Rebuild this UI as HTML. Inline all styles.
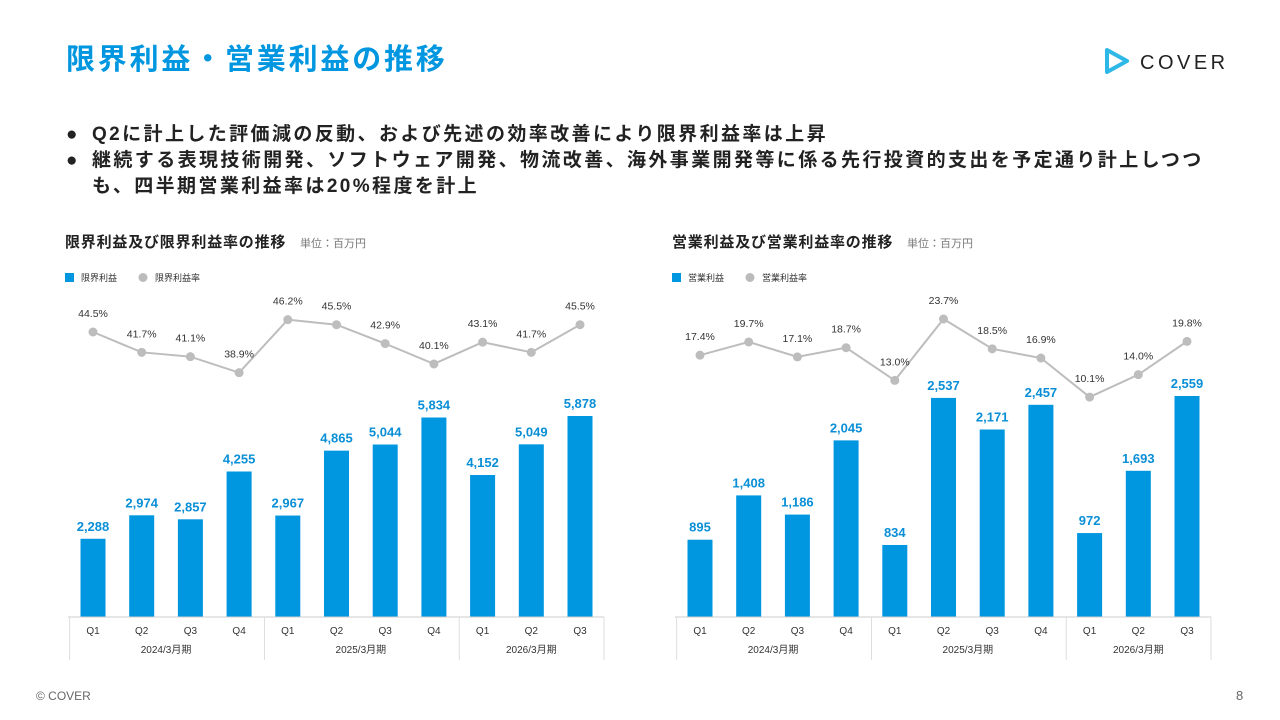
<!DOCTYPE html>
<html><head><meta charset="utf-8">
<style>
body{margin:0;width:1280px;height:720px;background:#fff;font-family:"Liberation Sans","Noto Sans CJK JP",sans-serif;position:relative;overflow:hidden}
.abs{position:absolute}
h1{position:absolute;left:66px;top:36px;margin:0;font-size:29px;color:#0096e0;font-weight:bold;letter-spacing:2.8px}
.b{position:absolute;left:66px;font-size:19px;font-weight:bold;color:#222;letter-spacing:2.4px}
.b span{display:inline-block;width:26px;letter-spacing:0}
</style></head><body>
<h1>限界利益・営業利益の推移</h1>
<div class="abs" style="left:1103px;top:46px">
<svg width="130" height="30"><path d="M4 4 L24 15 L4 26 Z" fill="none" stroke="#2db8e8" stroke-width="4" stroke-linejoin="round"/>
<text x="37" y="23" font-size="20" letter-spacing="3.5" fill="#222" font-family="Liberation Sans">COVER</text></svg></div>
<div class="b" style="top:119px"><span>●</span>Q2に計上した評価減の反動、および先述の効率改善により限界利益率は上昇</div>
<div class="b" style="top:148px;line-height:26px"><span>●</span>継続する表現技術開発、ソフトウェア開発、物流改善、海外事業開発等に係る先行投資的支出を予定通り計上しつつ<br><span></span>も、四半期営業利益率は20%程度を計上</div>
<svg class="abs" style="left:0;top:0" width="1280" height="720" id="chart"></svg>
<div class="abs" style="left:36px;top:689px;font-size:12px;color:#666">© COVER</div>
<div class="abs" style="left:1236px;top:688px;font-size:13px;color:#666">8</div>
<script>
const quarters=["Q1","Q2","Q3","Q4","Q1","Q2","Q3","Q4","Q1","Q2","Q3"];
const years=["2024/3月期","2025/3月期","2026/3月期"];
const marginalProfit=[2288,2974,2857,4255,2967,4865,5044,5834,4152,5049,5878];
const marginalRate=[44.5,41.7,41.1,38.9,46.2,45.5,42.9,40.1,43.1,41.7,45.5];
const opProfit=[895,1408,1186,2045,834,2537,2171,2457,972,1693,2559];
const opRate=[17.4,19.7,17.1,18.7,13.0,23.7,18.5,16.9,10.1,14.0,19.8];
const svg=document.getElementById('chart');
const NS="http://www.w3.org/2000/svg";
function mk(t,a,txt){const e=document.createElementNS(NS,t);for(const k in a)e.setAttribute(k,a[k]);if(txt!==undefined)e.textContent=txt;svg.appendChild(e);return e;}
function chart(x0,title,barName,rateName,bars,rates,bScale,rRef,rRefY,rScale){
  const base=617,step=48.7,bw=25;
  const t=mk('text',{x:x0-3,y:247,'font-size':15,'font-weight':'bold',fill:'#222','letter-spacing':0.8},title);
  
  const u=mk('text',{x:x0+232,y:247,'font-size':11,fill:'#777'},'単位：百万円');
  
  const l1=mk('rect',{x:x0-3,y:273,width:9,height:9,fill:'#0096e0'});
  
  const l1t=mk('text',{x:x0+13,y:281,'font-size':9,fill:'#333'},barName);
  
  const l2=mk('circle',{cx:x0+75,cy:277.5,r:4.5,fill:'#bbb'});
  
  const l2t=mk('text',{x:x0+87,y:281,'font-size':9,fill:'#333'},rateName);
  
  const cx=i=>x0+25+i*step;
  const ry=v=>rRefY-(v-rRef)*rScale;
  bars.forEach((v,i)=>{
    const h=v*bScale;
    const r=mk('rect',{x:cx(i)-bw/2,y:base-h,width:bw,height:h,fill:'#0096e0'});
    
    const tl=mk('text',{x:cx(i),y:base-h-8,'text-anchor':'middle','font-size':13,'font-weight':'bold',fill:'#0a8fd6'},v.toLocaleString('en-US'));
    
  });
  const pts=rates.map((v,i)=>cx(i)+','+ry(v)).join(' ');
  const pl=mk('polyline',{points:pts,fill:'none',stroke:'#bdbdbd','stroke-width':2});
  
  rates.forEach((v,i)=>{
    const c=mk('circle',{cx:cx(i),cy:ry(v),r:4.5,fill:'#bdbdbd'});
    
    const tl=mk('text',{x:cx(i),y:ry(v)-15,'text-anchor':'middle','font-size':10.5,fill:'#333'},v.toFixed(1)+'%');
    
  });
  const ax=mk('line',{x1:x0,x2:x0+536,y1:base,y2:base,stroke:'#ccc'});
  
  [0,4,8,11].forEach(k=>{
    const xx=k===11?x0+536:cx(k)-step/2+1;
    const s=mk('line',{x1:xx,x2:xx,y1:base,y2:660,stroke:'#ddd'});
    
  });
  quarters.forEach((q,i)=>{
    const tq=mk('text',{x:cx(i),y:634,'text-anchor':'middle','font-size':10,fill:'#333'},q);
    
  });
  const spans=[[0,3],[4,7],[8,10]];
  years.forEach((y,j)=>{
    const tx=(cx(spans[j][0])+cx(spans[j][1]))/2;
    const ty=mk('text',{x:tx,y:653,'text-anchor':'middle','font-size':10,fill:'#333'},y);
    
  });
}
chart(68,'限界利益及び限界利益率の推移','限界利益','限界利益率',marginalProfit,marginalRate,201/5878,44.5,332,7.26);
chart(675,'営業利益及び営業利益率の推移','営業利益','営業利益率',opProfit,opRate,221/2559,23.7,319,5.74);
</script>
</body></html>
